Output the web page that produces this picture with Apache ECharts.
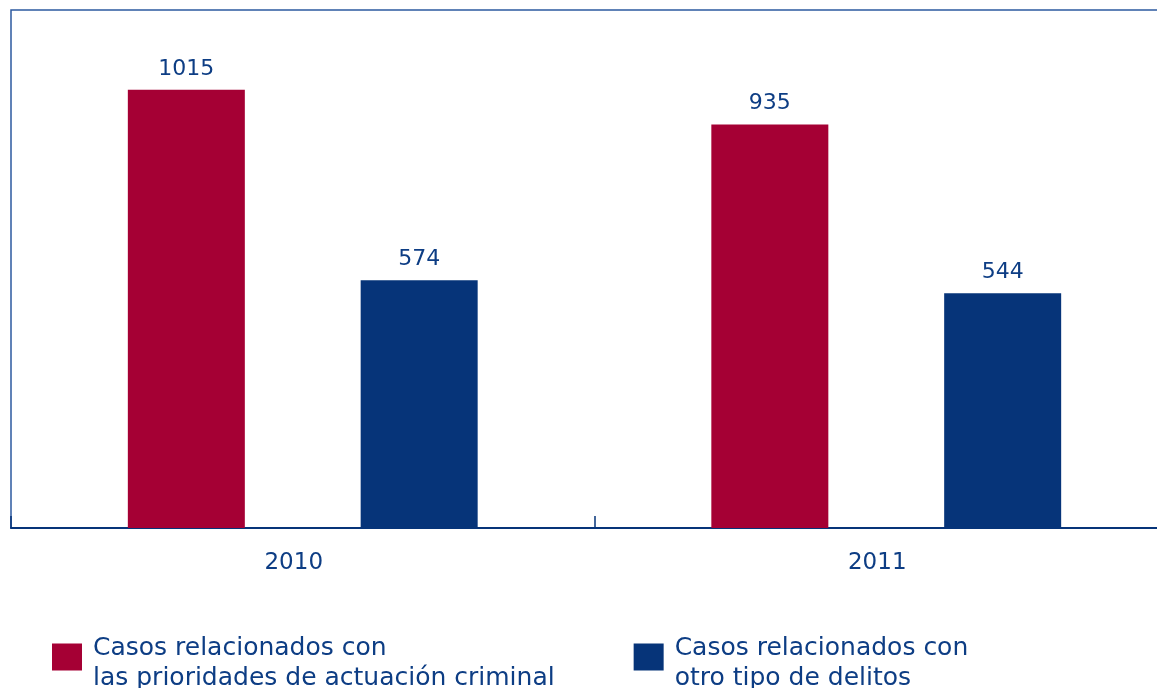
<!DOCTYPE html>
<html>
<head>
<meta charset="utf-8">
<script src="https://cdn.jsdelivr.net/npm/echarts@6/dist/echarts.min.js"></script>
<style>
  html, body { margin: 0; padding: 0; background: #fff; }
  #chart { width: 1157px; height: 688px; }
</style>
</head>
<body>
<div id="chart"></div>
<script>
// data
const years = ['2010', '2011'];
const seriesNames = [
  'Casos relacionados con\nlas prioridades de actuación criminal',
  'Casos relacionados con\notro tipo de delitos'
];
const prioridades = [1015, 935];
const otros = [574, 544];

const navy = '#063479';
const red = '#a50034';
const textColor = '#0d3d84';
const font = 'DejaVu Sans, Verdana, sans-serif';

// square sitting a bit above the text centre (empty point below pads the box)
const legendIcon = 'path://M0,0L30,0L30,27L0,27Z M0,39L0.01,39';

const chart = echarts.init(document.getElementById('chart'));

chart.setOption({
  animation: false,
  textStyle: { fontFamily: font },
  grid: {
    show: true,
    left: 11,
    top: 10,
    width: 1167,
    height: 518,
    outerBoundsMode: 'none',
    containLabel: false,
    borderColor: '#2d5aa0',
    borderWidth: 1.5,
    backgroundColor: 'transparent'
  },
  legend: {
    left: 47,
    top: 628,
    itemWidth: 30,
    itemHeight: 39,
    itemGap: 79,
    icon: legendIcon,
    textStyle: {
      fontFamily: font,
      fontSize: 25,
      lineHeight: 30,
      color: textColor,
      padding: [0, 0, 0, 6]
    },
    data: seriesNames
  },
  xAxis: {
    type: 'category',
    data: years,
    boundaryGap: true,
    axisLine: { lineStyle: { color: navy, width: 2 } },
    axisTick: { show: true, inside: true, length: 12, lineStyle: { color: navy, width: 1.5 } },
    axisLabel: {
      fontFamily: font,
      fontSize: 23,
      color: textColor,
      margin: 24,
      padding: [0, 18, 0, 0]
    }
  },
  yAxis: {
    type: 'value',
    min: 0,
    max: 1200,
    show: false,
    splitLine: { show: false }
  },
  series: [
    {
      name: seriesNames[0],
      type: 'bar',
      data: prioridades,
      barWidth: 117,
      barGap: '99%',
      itemStyle: { color: red },
      label: {
        show: true,
        position: 'top',
        distance: 10,
        fontFamily: font,
        fontSize: 22,
        color: textColor
      }
    },
    {
      name: seriesNames[1],
      type: 'bar',
      data: otros,
      barWidth: 117,
      barGap: '99%',
      itemStyle: { color: navy },
      label: {
        show: true,
        position: 'top',
        distance: 10,
        fontFamily: font,
        fontSize: 22,
        color: textColor
      }
    }
  ]
});
</script>
</body>
</html>
